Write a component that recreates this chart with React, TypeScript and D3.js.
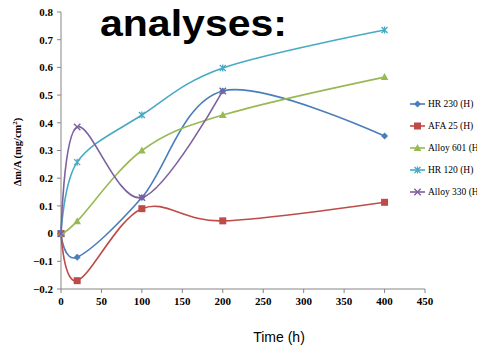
import React from "react";
import * as d3 from "d3";

const times = [0, 20, 100, 200, 400];
const seriesNames = ["HR 230 (H)", "AFA 25 (H)", "Alloy 601 (H)", "HR 120 (H)", "Alloy 330 (H)"];
const hr230 = [0, -0.085, 0.13, 0.515, 0.352];
const afa25 = [0, -0.17, 0.09, 0.046, 0.113];
const alloy601 = [0, 0.045, 0.3, 0.428, 0.565];
const hr120 = [0, 0.258, 0.428, 0.598, 0.735];
const alloy330 = [0, 0.385, 0.13, 0.515];
const xTicks = [0, 50, 100, 150, 200, 250, 300, 350, 400, 450];
const yTicks = [-0.2, -0.1, 0, 0.1, 0.2, 0.3, 0.4, 0.5, 0.6, 0.7, 0.8];
const colors = ["#4A7EBB", "#BE4B48", "#98B954", "#46AAC5", "#7D60A0"];
const markers = ["diamond", "square", "triangle", "star", "x"];

const W = 477, H = 347;
const x = d3.scaleLinear().domain([0, 450]).range([61, 425]);
const y = d3.scaleLinear().domain([-0.2, 0.8]).range([289, 12]);

function Marker({ type, cx, cy, color }: { type: string; cx: number; cy: number; color: string }) {
  const s = 3.5;
  if (type === "diamond")
    return <path d={`M${cx},${cy - s}L${cx + s},${cy}L${cx},${cy + s}L${cx - s},${cy}Z`} fill={color} />;
  if (type === "square")
    return <rect x={cx - 3.5} y={cy - 3.5} width={7} height={7} fill={color} />;
  if (type === "triangle")
    return <path d={`M${cx},${cy - 4}L${cx + 3.8},${cy + 3}L${cx - 3.8},${cy + 3}Z`} fill={color} />;
  if (type === "star")
    return (
      <path
        d={`M${cx - 3},${cy - 3}L${cx + 3},${cy + 3}M${cx - 3},${cy + 3}L${cx + 3},${cy - 3}M${cx},${cy - 3.5}L${cx},${cy + 3.5}`}
        stroke={color}
        strokeWidth={1.3}
        fill="none"
      />
    );
  return (
    <path
      d={`M${cx - 3.2},${cy - 3.2}L${cx + 3.2},${cy + 3.2}M${cx - 3.2},${cy + 3.2}L${cx + 3.2},${cy - 3.2}`}
      stroke={color}
      strokeWidth={1.4}
      fill="none"
    />
  );
}

export default function App() {
  const allSeries = [hr230, afa25, alloy601, hr120, alloy330];
  const line = d3
    .line<[number, number]>()
    .x((d) => x(d[0]))
    .y((d) => y(d[1]))
    .curve(d3.curveCardinal.tension(0));
  const axisColor = "#868686";
  const tickFont = "'Liberation Serif', 'Times New Roman', serif";
  return (
    <svg width={W} height={H} style={{ position: "absolute", left: 0, top: 0, background: "#fff" }}>
      <text
        x={100}
        y={36}
        fontFamily="'Liberation Sans', Arial, sans-serif"
        fontWeight="bold"
        fontSize={36}
        textLength={187}
        lengthAdjust="spacingAndGlyphs"
        fill="#000"
      >
        analyses:
      </text>
      {/* axes */}
      <line x1={61} x2={61} y1={y(0.8)} y2={y(-0.2)} stroke={axisColor} strokeWidth={1} />
      <line x1={61} x2={x(450)} y1={y(-0.2)} y2={y(-0.2)} stroke={axisColor} strokeWidth={1} />
      {yTicks.map((t) => (
        <g key={"y" + t}>
          <line x1={57} x2={61} y1={y(t)} y2={y(t)} stroke={axisColor} />
          <text
            x={53}
            y={y(t) + 3.8}
            textAnchor="end"
            fontFamily={tickFont}
            fontWeight="bold"
            fontSize={11}
            fill="#000"
          >
            {t === 0 ? "0" : d3.format(".1f")(t)}
          </text>
        </g>
      ))}
      {xTicks.map((t) => (
        <g key={"x" + t}>
          <line x1={x(t)} x2={x(t)} y1={289} y2={293} stroke={axisColor} />
          <text
            x={x(t)}
            y={305}
            textAnchor="middle"
            fontFamily={tickFont}
            fontWeight="bold"
            fontSize={11}
            fill="#000"
          >
            {t}
          </text>
        </g>
      ))}
      <text
        transform={`translate(21,152) rotate(-90)`}
        textAnchor="middle"
        fontFamily={tickFont}
        fontWeight="bold"
        fontSize={10.5}
        fill="#000"
      >
        Δm/A (mg/cm<tspan dy={-4} fontSize={7}>2</tspan>
        <tspan dy={4}>)</tspan>
      </text>
      <text
        x={279}
        y={342}
        textAnchor="middle"
        fontFamily="'Liberation Sans', Arial, sans-serif"
        fontSize={14}
        fill="#000"
      >
        Time (h)
      </text>
      {/* series */}
      {allSeries.map((vals, i) => {
        const pts = vals.map((v, j) => [times[j], v] as [number, number]);
        return (
          <g key={"s" + i}>
            <path d={line(pts) || ""} fill="none" stroke={colors[i]} strokeWidth={1.6} />
            {pts.map((p, j) => (
              <Marker key={j} type={markers[i]} cx={x(p[0])} cy={y(p[1])} color={colors[i]} />
            ))}
          </g>
        );
      })}
      {/* legend */}
      {seriesNames.map((name, i) => {
        const ly = 104 + i * 22;
        return (
          <g key={"l" + i}>
            <line x1={410} x2={425} y1={ly} y2={ly} stroke={colors[i]} strokeWidth={1.6} />
            <Marker type={markers[i]} cx={417.5} cy={ly} color={colors[i]} />
            <text x={428} y={ly + 3.3} fontFamily={tickFont} fontSize={9.5} fill="#000">
              {name}
            </text>
          </g>
        );
      })}
    </svg>
  );
}
